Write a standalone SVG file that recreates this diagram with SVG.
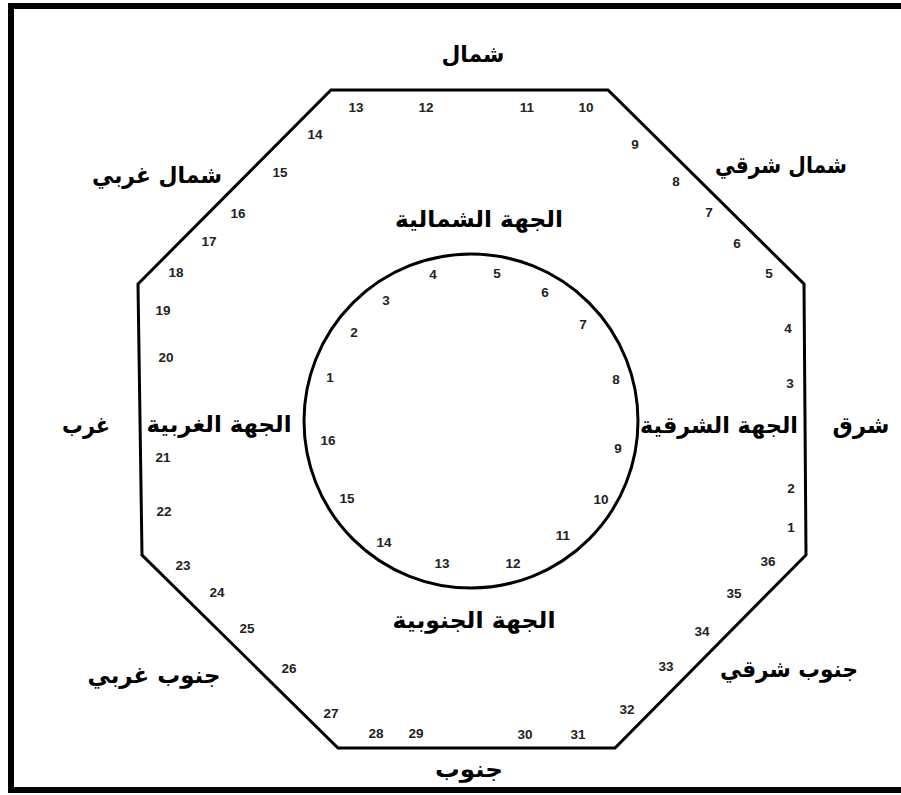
<svg xmlns="http://www.w3.org/2000/svg" width="901" height="795" viewBox="0 0 901 795">
<style>
.ar{font-family:"DejaVu Sans","Liberation Sans",sans-serif;font-weight:bold;font-size:23px;fill:#000;text-anchor:middle;direction:rtl}
.n{font-family:"Liberation Sans",Arial,sans-serif;font-weight:bold;font-size:13.5px;fill:#222;text-anchor:middle}
.ln{fill:none;stroke:#000;stroke-width:3;stroke-linejoin:miter}
</style>
<rect x="0" y="0" width="901" height="795" fill="#fff"/>
<path d="M920,6 H11 V790 H920" fill="none" stroke="#000" stroke-width="6"/>
<g id="octagon">
<polygon class="ln" points="331,90 608,90 804,284 806,555 615,748 338,748 142,555 138,284"/>
</g>
<g id="circle">
<circle class="ln" cx="471" cy="421" r="167"/>
</g>
<g id="directions">
<text class="ar" x="473" y="62" textLength="63" lengthAdjust="spacingAndGlyphs">شمال</text>
<text class="ar" x="157" y="183" textLength="130" lengthAdjust="spacingAndGlyphs">شمال غربي</text>
<text class="ar" x="781" y="173" textLength="132" lengthAdjust="spacingAndGlyphs">شمال شرقي</text>
<text class="ar" x="86" y="433" textLength="48" lengthAdjust="spacingAndGlyphs">غرب</text>
<text class="ar" x="861" y="433" textLength="57" lengthAdjust="spacingAndGlyphs">شرق</text>
<text class="ar" x="154" y="683" textLength="133" lengthAdjust="spacingAndGlyphs">جنوب غربي</text>
<text class="ar" x="789" y="677" textLength="138" lengthAdjust="spacingAndGlyphs">جنوب شرقي</text>
<text class="ar" x="469" y="777" textLength="68" lengthAdjust="spacingAndGlyphs">جنوب</text>
</g>
<g id="sides">
<text class="ar" x="479" y="227" textLength="168" lengthAdjust="spacingAndGlyphs">الجهة الشمالية</text>
<text class="ar" x="219" y="432" textLength="145" lengthAdjust="spacingAndGlyphs">الجهة الغربية</text>
<text class="ar" x="719" y="433" textLength="158" lengthAdjust="spacingAndGlyphs">الجهة الشرقية</text>
<text class="ar" x="474" y="628" textLength="163" lengthAdjust="spacingAndGlyphs">الجهة الجنوبية</text>
</g>
<g id="outer-numbers">
<text class="n" x="791" y="532">1</text>
<text class="n" x="791" y="493">2</text>
<text class="n" x="790" y="388">3</text>
<text class="n" x="788" y="333">4</text>
<text class="n" x="769" y="278">5</text>
<text class="n" x="737" y="248">6</text>
<text class="n" x="709" y="217">7</text>
<text class="n" x="676" y="186">8</text>
<text class="n" x="635" y="149">9</text>
<text class="n" x="586" y="112">10</text>
<text class="n" x="527" y="112">11</text>
<text class="n" x="426" y="112">12</text>
<text class="n" x="356" y="112">13</text>
<text class="n" x="315" y="139">14</text>
<text class="n" x="280" y="177">15</text>
<text class="n" x="238" y="218">16</text>
<text class="n" x="209" y="246">17</text>
<text class="n" x="176" y="277">18</text>
<text class="n" x="163" y="315">19</text>
<text class="n" x="166" y="362">20</text>
<text class="n" x="163" y="462">21</text>
<text class="n" x="164" y="516">22</text>
<text class="n" x="183" y="570">23</text>
<text class="n" x="217" y="597">24</text>
<text class="n" x="247" y="633">25</text>
<text class="n" x="289" y="673">26</text>
<text class="n" x="331" y="718">27</text>
<text class="n" x="376" y="738">28</text>
<text class="n" x="416" y="738">29</text>
<text class="n" x="525" y="739">30</text>
<text class="n" x="578" y="739">31</text>
<text class="n" x="627" y="714">32</text>
<text class="n" x="666" y="671">33</text>
<text class="n" x="702" y="636">34</text>
<text class="n" x="734" y="598">35</text>
<text class="n" x="768" y="566">36</text>
</g>
<g id="inner-numbers">
<text class="n" x="330" y="382">1</text>
<text class="n" x="354" y="337">2</text>
<text class="n" x="386" y="305">3</text>
<text class="n" x="433" y="279">4</text>
<text class="n" x="497" y="278">5</text>
<text class="n" x="545" y="297">6</text>
<text class="n" x="583" y="329">7</text>
<text class="n" x="616" y="384">8</text>
<text class="n" x="618" y="453">9</text>
<text class="n" x="601" y="504">10</text>
<text class="n" x="563" y="540">11</text>
<text class="n" x="513" y="568">12</text>
<text class="n" x="442" y="568">13</text>
<text class="n" x="384" y="547">14</text>
<text class="n" x="347" y="503">15</text>
<text class="n" x="328" y="445">16</text>
</g>
</svg>
